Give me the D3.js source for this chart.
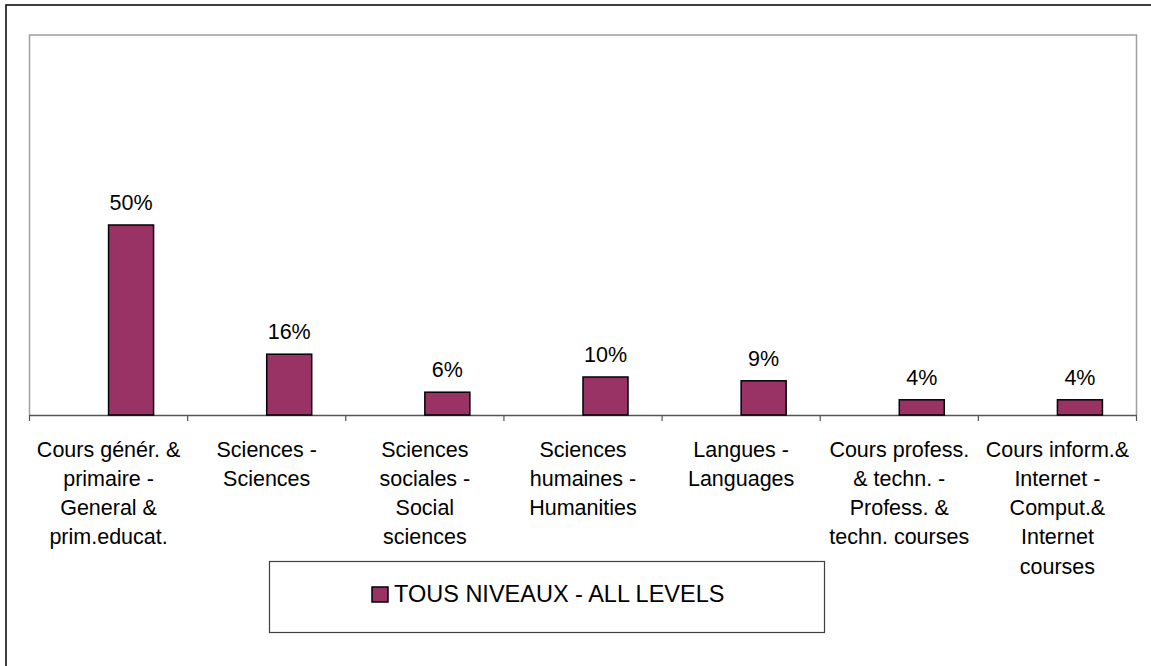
<!DOCTYPE html>
<html><head><meta charset="utf-8">
<script src="https://cdn.jsdelivr.net/npm/d3@7/dist/d3.min.js"></script>
<style>
html,body{margin:0;padding:0;background:#fff;}
text{font-family:"Liberation Sans",Arial,sans-serif;fill:#000;}
</style></head>
<body>
<script>
const categories = [
  ["Cours génér. &", "primaire -", "General &", "prim.educat."],
  ["Sciences -", "Sciences"],
  ["Sciences", "sociales -", "Social", "sciences"],
  ["Sciences", "humaines -", "Humanities"],
  ["Langues -", "Languages"],
  ["Cours profess.", "& techn. -", "Profess. &", "techn. courses"],
  ["Cours inform.&", "Internet -", "Comput.&", "Internet", "courses"]
];
const values = [50, 16, 6, 10, 9, 4, 4];
const valueLabels = ["50%", "16%", "6%", "10%", "9%", "4%", "4%"];
const seriesName = "TOUS NIVEAUX - ALL LEVELS";

const W = 1151, H = 666;
const svg = d3.select("body").append("svg").attr("width", W).attr("height", H);

// outer chart border
svg.append("rect").attr("x", 6).attr("y", 5).attr("width", W + 10).attr("height", H + 10)
  .attr("fill", "#fff").attr("stroke", "#000").attr("stroke-width", 1.5);

const pLeft = 29.5, pRight = 1136.5, pTop = 35, pBottom = 415;
const ids = categories.map((c, i) => i);
const x = d3.scaleBand().domain(ids).range([pLeft, pRight]).padding(0);
const y = d3.scaleLinear().domain([0, 100]).range([pBottom, pTop]);

// plot area border
svg.append("path")
  .attr("d", `M${pLeft},${pBottom}V${pTop}H${pRight}V${pBottom}`)
  .attr("fill", "none").attr("stroke", "#a0a0a0").attr("stroke-width", 1.5);

// x axis
const axis = d3.axisBottom(x).tickSize(0).tickFormat("");
const gA = svg.append("g").attr("transform", `translate(0,${pBottom})`).call(axis);
gA.select(".domain").attr("stroke", "#555").attr("stroke-width", 1.5);
const bounds = ids.map(i => x(i)).concat([pRight]);
gA.selectAll(".bt").data(bounds).join("line").attr("class", "bt")
  .attr("x1", d => d).attr("x2", d => d).attr("y1", 0).attr("y2", 6)
  .attr("stroke", "#555").attr("stroke-width", 1.2);

// bars
const bw = 45;
svg.selectAll(".bar").data(values).join("rect").attr("class", "bar")
  .attr("x", (d, i) => x(i) + x.bandwidth() / 2)
  .attr("y", d => y(d))
  .attr("width", bw)
  .attr("height", d => y(0) - y(d))
  .attr("fill", "#993366").attr("stroke", "#000").attr("stroke-width", 1.5);

// value labels
svg.selectAll(".vl").data(values).join("text").attr("class", "vl")
  .attr("x", (d, i) => x(i) + x.bandwidth() / 2 + bw / 2)
  .attr("y", d => y(d) - 15)
  .attr("text-anchor", "middle").attr("font-size", 21.5)
  .text((d, i) => valueLabels[i]);

// category labels
const cl = svg.selectAll(".cl").data(categories).join("text").attr("class", "cl")
  .attr("text-anchor", "middle").attr("font-size", 21.5);
cl.each(function(lines, i) {
  d3.select(this).selectAll("tspan").data(lines).join("tspan")
    .attr("x", x(i) + x.bandwidth() / 2)
    .attr("y", (l, j) => 456.5 + j * 29.3)
    .text(l => l);
});

// legend
svg.append("rect").attr("x", 269.5).attr("y", 561.5).attr("width", 555).attr("height", 71)
  .attr("fill", "#fff").attr("stroke", "#404040").attr("stroke-width", 1.2);
svg.append("rect").attr("x", 372).attr("y", 587).attr("width", 16).attr("height", 15)
  .attr("fill", "#993366").attr("stroke", "#000").attr("stroke-width", 1.5);
svg.append("text").attr("x", 394).attr("y", 602).attr("font-size", 23.5).text(seriesName);
</script>
</body></html>
